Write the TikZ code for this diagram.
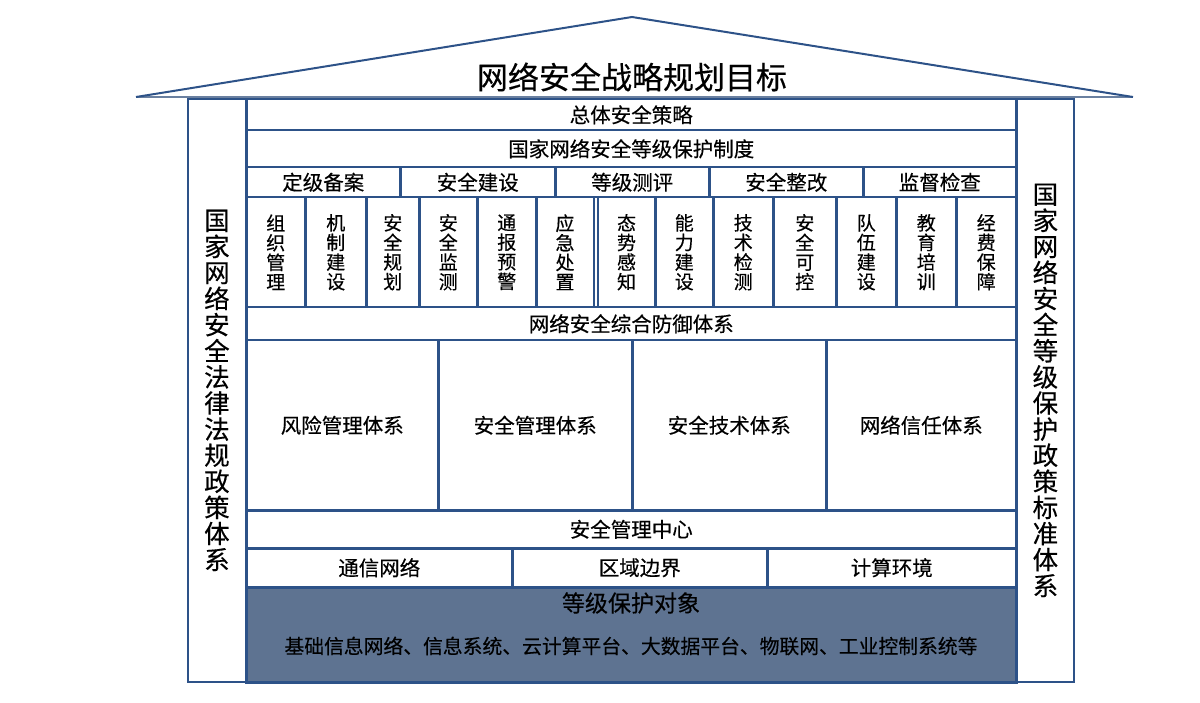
\documentclass[tikz,border=0pt]{standalone}
\usepackage{fontspec}
\newfontfamily\cjk[FakeBold=0.35]{Noto Sans CJK SC}
\definecolor{navy}{HTML}{2D5288}
\definecolor{basegray}{HTML}{6A80A0}
\definecolor{objfill}{HTML}{5E7391}
\newcommand\mkcell[7][]{%
  \pgfmathsetmacro\cw{#5-#3}\pgfmathsetmacro\ch{#6-#4}%
  \node[cellst,#1,minimum width=\cw pt,minimum height=\ch pt] (#2) at (#3,#4) {#7};}
\begin{document}
\begin{tikzpicture}[x=1pt,y=-1pt,
  cellst/.style={draw=navy,line width=2.5pt,inner sep=0pt,anchor=north west,
    align=center,font=\cjk\fontsize{20.5}{24}\selectfont},
  vert/.style={font=\cjk\fontsize{19}{19.6}\selectfont},
  wallst/.style={draw=navy,line width=1.8pt,font=\cjk\fontsize{25.5}{26.1}\selectfont},
  roofst/.style={draw=navy,line width=2pt,line join=miter},
  basest/.style={draw=basegray,line width=1.2pt},
  objst/.style={cellst,fill=objfill},
  objtext/.style={inner sep=0pt,font=\cjk\fontsize{#1}{#1}\selectfont}]
\useasboundingbox (0,0) rectangle (1200,703);
% roof
\coordinate (rl) at (136,97);
\coordinate (apex) at (632,17);
\coordinate (rr) at (1133,97);
\draw[basest] (rl) -- (rr);
\draw[roofst] (rl) -- (apex) -- (rr);
\node[objtext=31] (title) at (632,77) {网络安全战略规划目标};
% walls
\mkcell[wallst]{lwall}{187}{98}{245}{681}{国\\家\\网\\络\\安\\全\\法\\律\\法\\规\\政\\策\\体\\系}
\mkcell[wallst]{rwall}{1016}{98}{1073}{681}{国\\家\\网\\络\\安\\全\\等\\级\\保\\护\\政\\策\\标\\准\\体\\系}
% rows 1-2
\mkcell{r1}{245}{98}{1015}{129}{总体安全策略}
\mkcell{r2}{245}{129}{1015}{166}{国家网络安全等级保护制度}
% row 3
\mkcell{c31}{245}{166}{399}{196}{定级备案}
\mkcell{c32}{399}{166}{554}{196}{安全建设}
\mkcell{c33}{554}{166}{708}{196}{等级测评}
\mkcell{c34}{708}{166}{862}{196}{安全整改}
\mkcell{c35}{862}{166}{1015}{196}{监督检查}
% row 4
\mkcell[vert]{c41}{245}{196}{304}{306}{组\\织\\管\\理}
\mkcell[vert]{c42}{304}{196}{365}{306}{机\\制\\建\\设}
\mkcell[vert]{c43}{365}{196}{418}{306}{安\\全\\规\\划}
\mkcell[vert]{c44}{418}{196}{476}{306}{安\\全\\监\\测}
\mkcell[vert]{c45}{476}{196}{535}{306}{通\\报\\预\\警}
\mkcell[vert]{c46}{535}{196}{592.5}{306}{应\\急\\处\\置}
\mkcell[vert]{c47}{596.5}{196}{654}{306}{态\\势\\感\\知}
\mkcell[vert]{c48}{654}{196}{712}{306}{能\\力\\建\\设}
\mkcell[vert]{c49}{712}{196}{772}{306}{技\\术\\检\\测}
\mkcell[vert]{c410}{772}{196}{835}{306}{安\\全\\可\\控}
\mkcell[vert]{c411}{835}{196}{895}{306}{队\\伍\\建\\设}
\mkcell[vert]{c412}{895}{196}{955}{306}{教\\育\\培\\训}
\mkcell[vert]{c413}{955}{196}{1015}{306}{经\\费\\保\\障}
% row 5
\mkcell{r5}{245}{306}{1015}{339}{网络安全综合防御体系}
% row 6
\mkcell{c61}{245}{339}{437}{509}{风险管理体系}
\mkcell{c62}{437}{339}{631}{509}{安全管理体系}
\mkcell{c63}{631}{339}{825}{509}{安全技术体系}
\mkcell{c64}{825}{339}{1015}{509}{网络信任体系}
% row 7
\mkcell{r7}{245}{509}{1015}{547}{安全管理中心}
% row 8
\mkcell{c81}{245}{547}{511}{586}{通信网络}
\mkcell{c82}{511}{547}{766}{586}{区域边界}
\mkcell{c83}{766}{547}{1015}{586}{计算环境}
% protected objects
\mkcell[objst]{obj}{245}{586}{1015}{681}{}
\node[objtext=23] (objtitle) at (631,603) {等级保护对象};
\node[objtext=19.8] (objlist) at (631,646) {基础信息网络、信息系统、云计算平台、大数据平台、物联网、工业控制系统等};
\end{tikzpicture}
\end{document}
